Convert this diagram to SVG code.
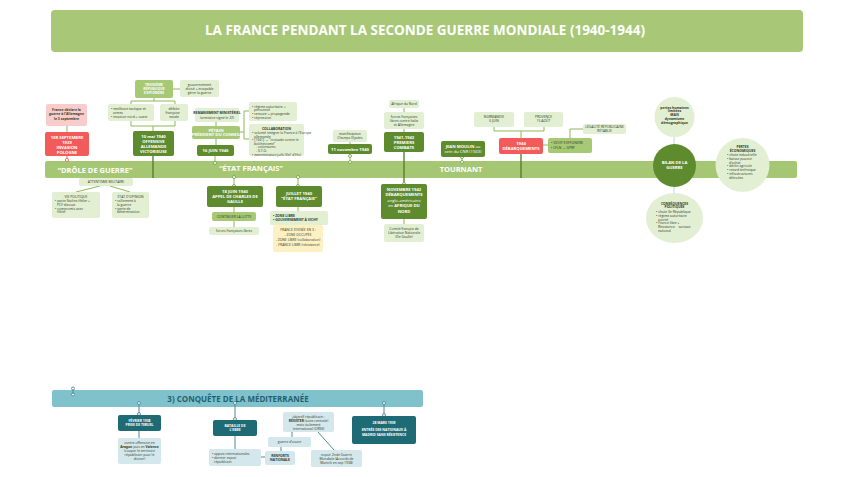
<svg xmlns="http://www.w3.org/2000/svg" width="848" height="477" viewBox="0 0 848 477">
<style>
text{font-family:"Open Sans","Liberation Sans",sans-serif;text-anchor:middle}
.w{fill:#fff;font-weight:700}
.d{fill:#2f3a25}
.b{font-weight:700}
.s4{font-size:4.2px}
.s3{font-size:3.4px}
.s5{font-size:4.8px}
.dg{fill:#5f8b2f}
.mg{fill:#a7c874}
.lg{fill:#e2efd3}
.rd{fill:#f35a5a}
.pk{fill:#f9cccc}
.ye{fill:#fdf1c4}
.tdk{fill:#1f6b75}
.tl{fill:#d3e7ec}
.ln{stroke:#8db857;stroke-width:1;fill:none}
.dk{stroke:#4f7a26;stroke-width:1.3;fill:none}
.tln{stroke:#4d8b9b;stroke-width:1;fill:none}
.dot{fill:#fff;stroke:#6f9a3e;stroke-width:0.8}
.tdot{fill:#fff;stroke:#3f7d8e;stroke-width:0.8}
.lt{text-anchor:start}
</style>

<g id="title">
<rect x="51" y="10" width="752" height="42" rx="4" fill="#a8c878"/>
<text x="425" y="35" class="w" font-size="14.5" textLength="440" lengthAdjust="spacingAndGlyphs">LA FRANCE PENDANT LA SECONDE GUERRE MONDIALE (1940-1944)</text>
</g>

<g id="connectors">
<line x1="67" y1="126" x2="67" y2="132" class="ln"/>
<line x1="67" y1="156" x2="67" y2="165" stroke="#f35a5a" stroke-width="1"/>
<line x1="173" y1="89" x2="180" y2="89" class="ln"/>
<path d="M154,98 V101 M131,104 V101 H175 V104" class="ln"/>
<path d="M131,121 V126 H175 V121 M153,126 V131" class="ln"/>
<line x1="216" y1="122" x2="216" y2="126" class="ln"/>
<line x1="216" y1="139" x2="216" y2="145" class="ln"/>
<path d="M240,132 H244 M249,111 H244 V139 H249" class="ln"/>
<line x1="215" y1="156" x2="215" y2="163" class="ln"/>
<line x1="350" y1="142" x2="350" y2="144" class="ln"/>
<line x1="350" y1="154" x2="350" y2="162" class="ln"/>
<line x1="404" y1="108" x2="404" y2="112" class="ln"/>
<line x1="404" y1="129" x2="404" y2="132" class="ln"/>
<line x1="462" y1="157" x2="462" y2="162" class="ln"/>
<path d="M494,127 V131 H544 V127 M521,131 V138" class="ln"/>
<line x1="543" y1="145" x2="548" y2="145" class="ln"/>
<path d="M570,138 V129 H583" class="ln"/>
<line x1="674" y1="137" x2="674" y2="144" stroke="#b9d8e2" stroke-width="1"/>
<line x1="674" y1="187" x2="674" y2="193" stroke="#b9d8e2" stroke-width="1"/>
<line x1="696" y1="165" x2="715" y2="165" stroke="#c8e0ad" stroke-width="1"/>
<path d="M100,186 L76,192 M110,186 L130,192" class="ln"/>
<line x1="234" y1="177" x2="234" y2="186" class="ln"/>
<line x1="234" y1="207" x2="234" y2="212" class="ln"/>
<line x1="234" y1="221" x2="234" y2="227" class="ln"/>
<line x1="298" y1="177" x2="298" y2="186" class="ln"/>
<line x1="298" y1="207" x2="298" y2="211" class="ln"/>
<line x1="404" y1="219" x2="404" y2="224" class="ln"/>
</g>

<g id="timeline">
<rect x="45" y="161" width="752" height="17" rx="2" fill="#a5c672"/>
<text x="95" y="172.5" class="w" font-size="7.5">“DRÔLE DE GUERRE”</text>
<text x="251" y="170.5" class="w" font-size="7.5">“ÉTAT FRANÇAIS”</text>
<text x="461" y="172" class="w" font-size="7.5">TOURNANT</text>
<line x1="153" y1="156" x2="153" y2="178" class="dk"/>
<line x1="404" y1="152" x2="404" y2="184" class="dk"/>
<line x1="521" y1="154" x2="521" y2="178" class="dk"/>
<circle cx="67" cy="160" r="1.6" fill="#fff" stroke="#f35a5a" stroke-width="0.8"/>
<circle cx="215" cy="163" r="1.5" class="dot"/>
<circle cx="350" cy="156" r="1.5" class="dot"/>
<circle cx="350" cy="162" r="1.5" class="dot"/>
<circle cx="462" cy="157" r="1.5" class="dot"/>
<circle cx="462" cy="162" r="1.5" class="dot"/>
<circle cx="234" cy="177" r="1.5" class="dot"/>
<circle cx="234" cy="186" r="1.5" class="dot"/>
<circle cx="298" cy="177" r="1.5" class="dot"/>
<circle cx="298" cy="186" r="1.5" class="dot"/>
<circle cx="404" cy="184" r="1.5" class="dot"/>
</g>

<g id="n-france-declare">
<rect x="46" y="104" width="41" height="22" rx="2" class="pk"/>
<text class="d b s3"><tspan x="66.5" y="111">France déclare la</tspan><tspan x="66.5" dy="4.3">guerre à l'Allemagne</tspan><tspan x="66.5" dy="4.3">le 3 septembre</tspan></text>
</g>
<g id="n-pologne">
<rect x="45" y="132" width="44" height="24" rx="2" class="rd"/>
<text class="w s4"><tspan x="67" y="139">1ER SEPTEMBRE</tspan><tspan x="67" dy="5">1939</tspan><tspan x="67" dy="5">INVASION</tspan><tspan x="67" dy="5">POLOGNE</tspan></text>
</g>
<g id="n-troisieme">
<rect x="135" y="80" width="38" height="18" rx="2" class="mg"/>
<text class="w s3"><tspan x="154" y="86">TROISIÈME</tspan><tspan x="154" dy="4">RÉPUBLIQUE</tspan><tspan x="154" dy="4">S'EFFONDRE</tspan></text>
</g>
<g id="n-gouvernement">
<rect x="180" y="80" width="39" height="17" rx="2" class="lg"/>
<text class="d s3"><tspan x="199.5" y="86">gouvernement</tspan><tspan x="199.5" dy="4">divisé + incapable</tspan><tspan x="199.5" dy="4">gérer la guerre</tspan></text>
</g>
<g id="n-tactique">
<rect x="108" y="104" width="46" height="17" rx="2" class="lg"/>
<text class="d s3 lt"><tspan x="111" y="110">• meilleure tactique et</tspan><tspan x="113" dy="4">armes</tspan><tspan x="111" dy="4">• invasion nord + ouest</tspan></text>
</g>
<g id="n-defaite">
<rect x="160" y="104" width="28" height="17" rx="2" class="lg"/>
<text class="d s3"><tspan x="174" y="110">défaite</tspan><tspan x="174" dy="4">française =</tspan><tspan x="174" dy="4">exode</tspan></text>
</g>
<g id="n-10mai">
<rect x="133" y="131" width="41" height="25" rx="2" class="dg"/>
<text class="w s4"><tspan x="153.5" y="138">10 mai 1940</tspan><tspan x="153.5" dy="5">OFFENSIVE</tspan><tspan x="153.5" dy="5">ALLEMANDE</tspan><tspan x="153.5" dy="5">VICTORIEUSE</tspan></text>
</g>
<g id="n-remaniement">
<rect x="195" y="108" width="44" height="14" rx="2" class="lg"/>
<text class="d s3"><tspan x="217" y="114" class="b">REMANIEMENT MINISTÉRIEL</tspan><tspan x="217" dy="4.5">(armistice signé le 22)</tspan></text>
</g>
<g id="n-petain">
<rect x="192" y="126" width="48" height="13" rx="2" class="mg"/>
<text class="w s4"><tspan x="216" y="131.5">PÉTAIN</tspan><tspan x="216" dy="4.8">PRÉSIDENT DU CONSEIL</tspan></text>
</g>
<g id="n-16juin">
<rect x="197" y="145" width="37" height="11" rx="2" class="dg"/>
<text x="215.5" y="152" class="w s4">16 JUIN 1940</text>
</g>
<g id="n-regime">
<rect x="249" y="102" width="48" height="19" rx="2" class="lg"/>
<text class="d s3 lt"><tspan x="252" y="107.5">• régime autoritaire +</tspan><tspan x="254" dy="3.8">personnel</tspan><tspan x="252" dy="3.8">• censure + propagande</tspan><tspan x="252" dy="3.8">• répression</tspan></text>
</g>
<g id="n-collaboration">
<rect x="249" y="124" width="55" height="32" rx="2" class="lg"/>
<text x="276.5" y="129.5" class="d b s3">COLLABORATION</text>
<text class="d s3 lt" font-size="3px"><tspan x="252" y="134">• volonté intégrer la France à l'Europe</tspan><tspan x="254" dy="3.6">allemande</tspan><tspan x="252" dy="3.6">• [1941] → “croisade contre le</tspan><tspan x="254" dy="3.6">bolchevisme”</tspan><tspan x="256" dy="3.6">- volontaires</tspan><tspan x="256" dy="3.6">- S.T.O.</tspan><tspan x="252" dy="3.6">• extermination juifs (Vel' d'Hiv)</tspan></text>
</g>
<g id="n-manif">
<rect x="333" y="130" width="34" height="12" rx="2" class="lg"/>
<text class="d s3"><tspan x="350" y="135">manifestation</tspan><tspan x="350" dy="4">Champs Élysées</tspan></text>
</g>
<g id="n-11nov">
<rect x="328" y="144" width="44" height="10" rx="2" class="dg"/>
<text x="350" y="150.5" class="w s4">11 novembre 1940</text>
</g>
<g id="n-afrique">
<rect x="389" y="100" width="30" height="8" rx="2" class="lg"/>
<text x="404" y="105.2" class="d s3">Afrique du Nord</text>
</g>
<g id="n-ffl">
<rect x="384" y="112" width="40" height="17" rx="2" class="lg"/>
<text class="d s3"><tspan x="404" y="117.5">forces françaises</tspan><tspan x="404" dy="4">libres contre Italie</tspan><tspan x="404" dy="4">et Allemagne</tspan></text>
</g>
<g id="n-combats">
<rect x="384" y="132" width="40" height="20" rx="2" class="dg"/>
<text class="w s4"><tspan x="404" y="138.5">1941-1942</tspan><tspan x="404" dy="5">PREMIERS</tspan><tspan x="404" dy="5">COMBATS</tspan></text>
</g>
<g id="n-moulin">
<rect x="441" y="141" width="44" height="16" rx="2" class="dg"/>
<text class="w s4"><tspan x="463" y="147.5">JEAN MOULIN <tspan font-weight="400">au</tspan></tspan><tspan x="463" dy="5" font-weight="400">sein du CNR (1943)</tspan></text>
</g>
<g id="n-normandie">
<rect x="474" y="112" width="40" height="15" rx="2" class="lg"/>
<text class="d s3"><tspan x="494" y="118">NORMANDIE</tspan><tspan x="494" dy="4.2">6 JUIN</tspan></text>
</g>
<g id="n-provence">
<rect x="524" y="112" width="39" height="15" rx="2" class="lg"/>
<text class="d s3"><tspan x="543.5" y="118">PROVENCE</tspan><tspan x="543.5" dy="4.2">15 AOÛT</tspan></text>
</g>
<g id="n-1944">
<rect x="499" y="138" width="44" height="16" rx="2" class="rd"/>
<text class="w s4"><tspan x="521" y="144.5">1944</tspan><tspan x="521" dy="5">DÉBARQUEMENTS</tspan></text>
</g>
<g id="n-vichy">
<rect x="548" y="138" width="44" height="15" rx="2" class="mg"/>
<text class="d s3 lt" font-size="3.8px"><tspan x="551" y="144">• VICHY S'EFFONDRE</tspan><tspan x="551" dy="4.6">• CFLN → GPRF</tspan></text>
</g>
<g id="n-legalite">
<rect x="583" y="124" width="43" height="10" rx="2" class="lg"/>
<text class="d s3" font-size="2.9px"><tspan x="604.5" y="128.3">LÉGALITÉ RÉPUBLICAINE</tspan><tspan x="604.5" dy="3.5">RÉTABLIE</tspan></text>
</g>
<g id="n-bilan">
<circle cx="674.5" cy="165.5" r="21.5" fill="#5f8b2f"/>
<text class="w s4"><tspan x="674.5" y="164">BILAN DE LA</tspan><tspan x="674.5" dy="5">GUERRE</tspan></text>
</g>
<g id="n-pertes-humaines">
<circle cx="674.5" cy="117" r="20" fill="#e2efd3"/>
<text class="d b s3"><tspan x="674.5" y="108.5">pertes humaines</tspan><tspan x="674.5" dy="3.8">limitées</tspan><tspan x="674.5" dy="3.8">MAIS</tspan><tspan x="674.5" dy="3.8">dynamisme</tspan><tspan x="674.5" dy="3.8">démographique</tspan></text>
</g>
<g id="n-pertes-eco">
<circle cx="742.5" cy="165" r="27" fill="#e2efd3"/>
<text class="d b s3"><tspan x="742.5" y="148">PERTES</tspan><tspan x="742.5" dy="3.8">ÉCONOMIQUES</tspan></text>
<text class="d s3 lt"><tspan x="727" y="156">• chute industrielle</tspan><tspan x="727" dy="3.8">• baisse pouvoir</tspan><tspan x="729" dy="3.8">d'achat</tspan><tspan x="727" dy="3.8">• déclin agricole</tspan><tspan x="727" dy="3.8">• retard technique</tspan><tspan x="727" dy="3.8">• infrastructures</tspan><tspan x="729" dy="3.8">détruites</tspan></text>
</g>
<g id="n-consequences">
<ellipse cx="674.5" cy="218" rx="28.5" ry="25" fill="#e2efd3"/>
<text class="d b s3"><tspan x="674.5" y="204.5">CONSÉQUENCES</tspan><tspan x="674.5" dy="3.8">POLITIQUES</tspan></text>
<text class="d s3 lt"><tspan x="656" y="213">• chute 3e République</tspan><tspan x="656" dy="3.8">• régime autoritaire</tspan><tspan x="658" dy="3.8">avorté</tspan><tspan x="656" dy="3.8">• France libre +</tspan><tspan x="658" dy="3.8">Résistance = sursaut</tspan><tspan x="658" dy="3.8">national</tspan></text>
</g>
<g id="n-attentisme">
<rect x="79" y="178" width="54" height="8" rx="2" class="lg"/>
<text x="106" y="183.3" class="d s3">ATTENTISME MILITAIRE</text>
</g>
<g id="n-vie-politique">
<rect x="52" y="192" width="48" height="26" rx="2" class="lg"/>
<text x="76" y="198" class="d s3">VIE POLITIQUE</text>
<text class="d s3 lt"><tspan x="55" y="202">• pacte Staline-Hitler +</tspan><tspan x="57" dy="3.8">PCF dissout</tspan><tspan x="55" dy="3.8">• compromis avec</tspan><tspan x="57" dy="3.8">Hitler</tspan></text>
</g>
<g id="n-opinion">
<rect x="112" y="192" width="37" height="26" rx="2" class="lg"/>
<text x="130.5" y="198" class="d s3">ÉTAT D'OPINION</text>
<text class="d s3 lt"><tspan x="115" y="202">• ralliement à</tspan><tspan x="117" dy="3.8">la guerre</tspan><tspan x="115" dy="3.8">• perte de</tspan><tspan x="117" dy="3.8">détermination</tspan></text>
</g>
<g id="n-18juin">
<rect x="207" y="186" width="56" height="21" rx="2" class="dg"/>
<text class="w s4"><tspan x="235" y="192.5">18 JUIN 1940</tspan><tspan x="235" dy="5">APPEL DE CHARLES DE</tspan><tspan x="235" dy="5">GAULLE</tspan></text>
</g>
<g id="n-continuer">
<rect x="212" y="212" width="44" height="9" rx="2" class="mg"/>
<text x="234" y="217.8" class="d s3">CONTINUER LA LUTTE</text>
</g>
<g id="n-forces-libres">
<rect x="209" y="227" width="50" height="8" rx="2" class="lg"/>
<text x="234" y="232.3" class="d s3">forces françaises libres</text>
</g>
<g id="n-juillet">
<rect x="276" y="186" width="46" height="21" rx="2" class="dg"/>
<text class="w s4"><tspan x="299" y="194.5">JUILLET 1940</tspan><tspan x="299" dy="5">“ÉTAT FRANÇAIS”</tspan></text>
</g>
<g id="n-zone-libre">
<rect x="270" y="211" width="58" height="14" rx="2" class="lg"/>
<text class="d b s3 lt" font-size="3.6px"><tspan x="273" y="216.5">• ZONE LIBRE</tspan><tspan x="273" dy="4.5">• GOUVERNEMENT À VICHY</tspan></text>
</g>
<g id="n-divisee">
<rect x="273" y="225" width="50" height="27" rx="2" class="ye"/>
<text class="d s3" font-size="3px"><tspan x="298" y="231">FRANCE DIVISÉE EN 3 :</tspan><tspan x="298" dy="5">- ZONE OCCUPÉE</tspan><tspan x="298" dy="5">- ZONE LIBRE (collaboration)</tspan><tspan x="298" dy="5">- FRANCE LIBRE (résistance)</tspan></text>
</g>
<g id="n-nov1942">
<rect x="381" y="184" width="46" height="35" rx="2" class="dg"/>
<text class="w s4"><tspan x="404" y="190.5">NOVEMBRE 1942</tspan><tspan x="404" dy="5.5">DÉBARQUEMENTS</tspan><tspan x="404" dy="5.5" font-weight="400">anglo-américains</tspan><tspan x="404" dy="5.5"><tspan font-weight="400">en</tspan> AFRIQUE DU</tspan><tspan x="404" dy="5.5">NORD</tspan></text>
</g>
<g id="n-cfln">
<rect x="384" y="224" width="40" height="18" rx="2" class="lg"/>
<text class="d s3"><tspan x="404" y="230">Comité français de</tspan><tspan x="404" dy="4">Libération Nationale</tspan><tspan x="404" dy="4">(De Gaulle)</tspan></text>
</g>

<g id="mediterranee">
<rect x="52" y="390" width="371" height="17" rx="2" fill="#80c2cc"/>
<text x="238" y="401.5" font-size="8" font-weight="700" fill="#1f6070">3) CONQUÊTE DE LA MÉDITERRANÉE</text>
</g>
<g id="connectors-med">
<line x1="73" y1="388" x2="73" y2="395" class="tln"/>
<circle cx="73" cy="388.5" r="1.5" class="tdot"/>
<circle cx="73" cy="394.5" r="1.5" class="tdot"/>
<line x1="139" y1="403" x2="139" y2="415" class="tln"/>
<circle cx="139" cy="403" r="1.5" class="tdot"/>
<circle cx="139" cy="414" r="1.5" class="tdot"/>
<line x1="139" y1="431" x2="139" y2="438" class="tln"/>
<line x1="235" y1="403" x2="235" y2="420" class="tln"/>
<circle cx="235" cy="403" r="1.5" class="tdot"/>
<circle cx="235" cy="419" r="1.5" class="tdot"/>
<line x1="235" y1="436" x2="235" y2="449" class="tln"/>
<line x1="261" y1="457" x2="265" y2="457" class="tln"/>
<line x1="281" y1="447" x2="281" y2="451" class="tln"/>
<line x1="292" y1="432" x2="292" y2="437" class="tln"/>
<line x1="318" y1="432" x2="334" y2="450" class="tln"/>
<line x1="384" y1="403" x2="384" y2="416" class="tln"/>
<circle cx="384" cy="403" r="1.5" class="tdot"/>
<circle cx="384" cy="415" r="1.5" class="tdot"/>
</g>
<g id="n-teruel">
<rect x="118" y="415" width="43" height="16" rx="2" class="tdk"/>
<text class="w s3" font-size="3.6px"><tspan x="139.5" y="421.5">FÉVRIER 1938</tspan><tspan x="139.5" dy="4.5">PRISE DE TERUEL</tspan></text>
</g>
<g id="n-contre-offensive">
<rect x="118" y="438" width="43" height="26" rx="2" class="tl"/>
<text class="d s3"><tspan x="139.5" y="444">contre-offensive en</tspan><tspan x="139.5" dy="4"><tspan class="b">Aragon</tspan> puis en <tspan class="b">Valence</tspan></tspan><tspan x="139.5" dy="4">(couper le territoire</tspan><tspan x="139.5" dy="4">républicain pour le</tspan><tspan x="139.5" dy="4">diviser)</tspan></text>
</g>
<g id="n-ebre">
<rect x="213" y="420" width="44" height="16" rx="2" class="tdk"/>
<text class="w s3" font-size="3.6px"><tspan x="235" y="426.5">BATAILLE DE</tspan><tspan x="235" dy="4.5">L'EBRE</tspan></text>
</g>
<g id="n-appuis">
<rect x="209" y="449" width="52" height="17" rx="2" class="tl"/>
<text class="d s3 lt"><tspan x="212" y="455">• appuis internationales</tspan><tspan x="212" dy="3.8">• dernier espoir</tspan><tspan x="214" dy="3.8">républicain</tspan></text>
</g>
<g id="n-renforts">
<rect x="265" y="451" width="30" height="14" rx="2" class="tl"/>
<text class="d b s3"><tspan x="280" y="457">RENFORTS</tspan><tspan x="280" dy="4">NATIONALE</tspan></text>
</g>
<g id="n-usure">
<rect x="268" y="437" width="43" height="10" rx="2" class="tl"/>
<text x="289.5" y="443.2" class="d s3">guerre d'usure</text>
</g>
<g id="n-objectif">
<rect x="283" y="412" width="51" height="20" rx="2" class="tl"/>
<text class="d s3"><tspan x="308.5" y="417.5">objectif républicain :</tspan><tspan x="308.5" dy="4"><tspan class="b">RÉSISTER</tspan> (zone centrale)</tspan><tspan x="308.5" dy="4">mais isolement</tspan><tspan x="308.5" dy="4">international (URSS)</tspan></text>
</g>
<g id="n-espoir">
<rect x="311" y="450" width="51" height="17" rx="2" class="tl"/>
<text class="d s3"><tspan x="336.5" y="456">espoir 2nde Guerre</tspan><tspan x="336.5" dy="4">Mondiale (Accords de</tspan><tspan x="336.5" dy="4">Munich en sep 1938)</tspan></text>
</g>
<g id="n-madrid">
<rect x="352" y="416" width="64" height="28" rx="2" class="tdk"/>
<text class="w s3" font-size="3.6px"><tspan x="384" y="424">28 MARS 1939</tspan><tspan x="384" dy="7">ENTRÉE DES NATIONAUX À</tspan><tspan x="384" dy="4.5">MADRID SANS RÉSISTENCE</tspan></text>
</g>
</svg>
